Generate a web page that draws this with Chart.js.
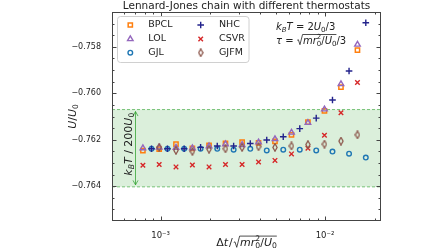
<!DOCTYPE html>
<html>
<head>
<meta charset="utf-8">
<script src="https://cdn.jsdelivr.net/npm/chart.js@4.4.1/dist/chart.umd.min.js"></script>
<style>
  html, body { margin: 0; padding: 0; background: #fff; }
</style>
</head>
<body>
<canvas id="chart" width="448" height="252"></canvas>
<script>
// time steps, two staggered grids (units of sqrt(m r0^2 / U0))
const dtA = [0.00078, 0.00098, 0.00124, 0.00156, 0.00197, 0.00248, 0.00313, 0.00394, 0.00496, 0.00625, 0.00787, 0.00992, 0.0125, 0.01575];
const dtB = [0.00088, 0.0011, 0.00139, 0.00175, 0.00221, 0.00278, 0.00351, 0.00442, 0.00557, 0.00702, 0.00884, 0.0111, 0.014, 0.0177];

// potential energy per particle U/U0
const bpcl = [-0.76247, -0.76240, -0.76219, -0.76237, -0.76224, -0.76216, -0.76210, -0.76214, -0.76207, -0.76179, -0.76124, -0.76076, -0.75974, -0.75814];
const lol  = [-0.76236, -0.76233, -0.76234, -0.76236, -0.76228, -0.76219, -0.76222, -0.76211, -0.76197, -0.76169, -0.76127, -0.76069, -0.75960, -0.75790];
const gjl  = [-0.76239, -0.76239, -0.76239, -0.76239, -0.76239, -0.76243, -0.76239, -0.76246, -0.76243, -0.76243, -0.76246, -0.76251, -0.76260, -0.76277];
const nhc  = [-0.76239, -0.76239, -0.76239, -0.76233, -0.76227, -0.76227, -0.76216, -0.76201, -0.76187, -0.76152, -0.76107, -0.76029, -0.75904, -0.75696];
const csvr = [-0.76310, -0.76307, -0.76317, -0.76309, -0.76317, -0.76307, -0.76307, -0.76296, -0.76289, -0.76261, -0.76237, -0.76181, -0.76084, -0.75954];
const gjfm = [null, -0.76233, -0.76246, -0.76250, -0.76241, -0.76239, -0.76233, -0.76230, -0.76233, -0.76227, -0.76221, -0.76219, -0.76206, -0.76179];

// axes
const yTicks = [-0.764, -0.762, -0.760, -0.758];
const yMinorStep = 0.0005;
const xTicks = [1e-3, 1e-2];
const xTickLabels = ['10⁻³', '10⁻²'];
const xMinor = [6e-4, 7e-4, 8e-4, 9e-4, 2e-3, 3e-3, 4e-3, 5e-3, 6e-3, 7e-3, 8e-3, 9e-3, 2e-2];

// kT/200 band around the small-dt value
const bandLow = -0.76403;
const bandHigh = -0.76070;
const arrowDt = 7e-4;

const FONT = '"DejaVu Sans", sans-serif';

function thinDiamond(color) {
  const c = document.createElement('canvas');
  c.width = 6; c.height = 9;
  const g = c.getContext('2d');
  g.strokeStyle = color;
  g.lineWidth = 1.3;
  g.beginPath();
  g.moveTo(3, 0.8); g.lineTo(5.1, 4.5); g.lineTo(3, 8.2); g.lineTo(0.9, 4.5);
  g.closePath();
  g.stroke();
  return c;
}

function series(label, xs, ys, color, style, radius, width, order) {
  return {
    label,
    data: xs.map((x, i) => ({ x, y: ys[i] })).filter(p => p.y !== null),
    showLine: false,
    pointStyle: style,
    pointRadius: radius,
    pointBorderColor: color,
    pointBackgroundColor: 'rgba(0,0,0,0)',
    pointBorderWidth: width,
    borderColor: color,
    backgroundColor: 'rgba(0,0,0,0)',
    order
  };
}

// mathtext-ish drawing: parts {t, it, sub, sup, stackSup, rad, ov}
function drawMath(ctx, parts, x, y, size, align) {
  const font = (it, small) => (it ? 'italic ' : '') + (small ? (size * 0.7).toFixed(1) : size) + 'px ' + FONT;
  const widthOf = p => {
    if (p.rad) return size * 0.62;
    ctx.font = font(p.it, p.sub || p.sup);
    let w = ctx.measureText(p.t).width;
    if (p.stackSup) { ctx.font = font(false, true); w = Math.max(w, ctx.measureText(p.stackSup).width); }
    return w + (p.gap || 0);
  };
  const total = parts.reduce((s, p) => s + widthOf(p), 0);
  let cx = align === 'center' ? x - total / 2 : x;
  let ovStart = null, ovEnd = null;
  ctx.textAlign = 'left';
  ctx.textBaseline = 'alphabetic';
  parts.forEach(p => {
    const w = widthOf(p);
    if (p.rad) {
      ctx.beginPath();
      ctx.lineWidth = 0.8;
      ctx.moveTo(cx + 0.05 * size, y - 0.32 * size);
      ctx.lineTo(cx + 0.16 * size, y - 0.38 * size);
      ctx.lineTo(cx + 0.32 * size, y + 0.12 * size);
      ctx.lineTo(cx + 0.58 * size, y - 0.9 * size);
      ctx.stroke();
      ovStart = cx + 0.58 * size;
    } else {
      ctx.font = font(p.it, p.sub || p.sup);
      let dy = 0;
      if (p.sub) dy = size * 0.22;
      if (p.sup) dy = -size * 0.42;
      ctx.fillText(p.t, cx, y + dy);
      if (p.stackSup) {
        ctx.font = font(false, true);
        ctx.fillText(p.stackSup, cx, y - size * 0.42);
      }
      if (p.ov) ovEnd = cx + w;
    }
    cx += w;
  });
  if (ovStart !== null && ovEnd !== null) {
    ctx.beginPath();
    ctx.lineWidth = 0.8;
    ctx.moveTo(ovStart, y - 0.9 * size);
    ctx.lineTo(ovEnd, y - 0.9 * size);
    ctx.stroke();
  }
}

const decor = {
  id: 'decor',
  beforeDatasetsDraw(chart) {
    const { ctx, chartArea: a, scales: { x, y } } = chart;
    const yt = y.getPixelForValue(bandHigh);
    const yb = y.getPixelForValue(bandLow);
    ctx.save();
    ctx.fillStyle = 'rgba(44,160,44,0.17)';
    ctx.fillRect(a.left, yt, a.right - a.left, yb - yt);
    ctx.strokeStyle = 'rgba(44,160,44,0.6)';
    ctx.lineWidth = 1;
    ctx.setLineDash([3, 2]);
    [yt, yb].forEach(p => {
      ctx.beginPath();
      ctx.moveTo(a.left, p);
      ctx.lineTo(a.right, p);
      ctx.stroke();
    });
    ctx.setLineDash([]);

    // double headed arrow spanning the band
    const ax = Math.round(x.getPixelForValue(arrowDt)) + 0.5;
    const t = yt + 2, b = yb - 2;
    ctx.strokeStyle = 'rgba(44,160,44,0.75)';
    ctx.lineWidth = 1;
    ctx.beginPath();
    ctx.moveTo(ax, t); ctx.lineTo(ax, b);
    ctx.moveTo(ax - 2.5, t + 4.5); ctx.lineTo(ax, t); ctx.lineTo(ax + 2.5, t + 4.5);
    ctx.moveTo(ax - 2.5, b - 4.5); ctx.lineTo(ax, b); ctx.lineTo(ax + 2.5, b - 4.5);
    ctx.stroke();

    ctx.fillStyle = '#222';
    ctx.strokeStyle = '#222';
    ctx.translate(ax - 7.5, (yt + yb) / 2 - 4);
    ctx.rotate(-Math.PI / 2);
    drawMath(ctx, [
      { t: 'k', it: true }, { t: 'B', it: true, sub: true }, { t: 'T', it: true },
      { t: ' / 200' }, { t: 'U', it: true }, { t: '0', sub: true }
    ], 0, 4, 11, 'center');
    ctx.restore();
  },
  afterDraw(chart) {
    const { ctx, chartArea: a, scales: { x, y } } = chart;
    ctx.save();

    // frame and inward ticks on all four sides
    ctx.strokeStyle = '#444';
    ctx.lineWidth = 1;
    ctx.strokeRect(a.left + 0.5, a.top + 0.5, a.right - a.left - 1, a.bottom - a.top - 1);
    ctx.beginPath();
    const vTick = (v, len) => {
      const p = Math.round(x.getPixelForValue(v)) + 0.5;
      ctx.moveTo(p, a.bottom); ctx.lineTo(p, a.bottom - len);
      ctx.moveTo(p, a.top); ctx.lineTo(p, a.top + len);
    };
    const hTick = (v, len) => {
      const p = Math.round(y.getPixelForValue(v)) + 0.5;
      if (p < a.top + 1 || p > a.bottom - 1) return;
      ctx.moveTo(a.left, p); ctx.lineTo(a.left + len, p);
      ctx.moveTo(a.right, p); ctx.lineTo(a.right - len, p);
    };
    xTicks.forEach(v => vTick(v, 4.5));
    xMinor.forEach(v => vTick(v, 2.5));
    for (let v = y.min; v <= y.max + 1e-9; v += yMinorStep) {
      const major = yTicks.some(t => Math.abs(t - v) < 1e-7);
      hTick(v, major ? 4.5 : 2.5);
    }
    ctx.stroke();

    // title
    ctx.fillStyle = '#222';
    ctx.font = '10.5px ' + FONT;
    ctx.textAlign = 'center';
    ctx.textBaseline = 'middle';
    ctx.fillText('Lennard-Jones chain with different thermostats', (a.left + a.right) / 2, 6.5);

    // axis titles
    ctx.strokeStyle = '#222';
    drawMath(ctx, [
      { t: 'Δ' }, { t: 't', it: true, gap: 1 }, { t: '/', gap: 0.5 }, { rad: true },
      { t: 'm', it: true, ov: true }, { t: 'r', it: true, ov: true },
      { t: '0', sub: true, stackSup: '2', ov: true }, { t: '/', ov: true },
      { t: 'U', it: true, ov: true }, { t: '0', sub: true, ov: true }
    ], (a.left + a.right) / 2, 246, 11, 'center');

    ctx.save();
    ctx.translate(72, (a.top + a.bottom) / 2);
    ctx.rotate(-Math.PI / 2);
    drawMath(ctx, [{ t: 'U', it: true }, { t: '/' }, { t: 'U', it: true }, { t: '0', sub: true }], 0, 4, 11, 'center');
    ctx.restore();

    // parameter note
    drawMath(ctx, [
      { t: 'k', it: true }, { t: 'B', it: true, sub: true }, { t: 'T', it: true },
      { t: ' = 2' }, { t: 'U', it: true }, { t: '0', sub: true }, { t: '/3' }
    ], 276, 29.5, 10);
    drawMath(ctx, [
      { t: 'τ', it: true }, { t: ' = ' }, { rad: true },
      { t: 'm', it: true, ov: true }, { t: 'r', it: true, ov: true },
      { t: '0', sub: true, stackSup: '2', ov: true }, { t: '/', ov: true },
      { t: 'U', it: true, ov: true }, { t: '0', sub: true, ov: true }, { t: '/3' }
    ], 276, 43.5, 10);

    // legend, two columns
    const lx = 117.5, ly = 16.5, lw = 131.5, lh = 46;
    ctx.beginPath();
    ctx.roundRect(lx, ly, lw, lh, 3);
    ctx.fillStyle = 'rgba(255,255,255,0.85)';
    ctx.fill();
    ctx.strokeStyle = '#d0d0d0';
    ctx.lineWidth = 1;
    ctx.stroke();
    const rows = [25, 39, 52.7];
    chart.data.datasets.forEach((ds, i) => {
      const col = Math.floor(i / 3), row = i % 3;
      const mx = col ? 200.7 : 130.3, tx = col ? 219 : 148.3;
      ctx.strokeStyle = ds.pointBorderColor;
      ctx.fillStyle = ds.pointBackgroundColor;
      ctx.lineWidth = ds.pointBorderWidth;
      Chart.helpers.drawPoint(ctx, {
        pointStyle: ds.pointStyle, radius: ds.pointRadius, rotation: 0, borderWidth: ds.pointBorderWidth
      }, mx, rows[row]);
      ctx.fillStyle = '#222';
      ctx.font = '9.5px ' + FONT;
      ctx.textAlign = 'left';
      ctx.textBaseline = 'middle';
      ctx.fillText(ds.label, tx, rows[row]);
    });
    ctx.restore();
  }
};

const ctx = document.getElementById('chart').getContext('2d');
new Chart(ctx, {
  type: 'scatter',
  data: {
    datasets: [
      series('BPCL', dtA, bpcl, '#ff7f0e', 'rect', 3, 1.5, 6),
      series('LOL', dtA, lol, '#9467bd', 'triangle', 3.2, 1.4, 5),
      series('GJL', dtB, gjl, '#1f77b4', 'circle', 2.3, 1.4, 4),
      series('NHC', dtB, nhc, '#23238c', 'cross', 3.3, 1.4, 3),
      series('CSVR', dtA, csvr, '#d62728', 'crossRot', 3.2, 1.4, 2),
      series('GJFM', dtA, gjfm, '#8c564b', thinDiamond('#8c564b'), 4, 1.3, 1)
    ]
  },
  options: {
    responsive: false,
    animation: false,
    events: [],
    layout: { padding: { left: 0, right: 67, top: 12, bottom: 0 } },
    plugins: { legend: { display: false }, title: { display: false }, tooltip: { enabled: false } },
    scales: {
      x: {
        type: 'logarithmic',
        min: 5.06e-4,
        max: 0.0219,
        grid: { display: false },
        border: { display: false },
        afterBuildTicks: s => { s.ticks = xTicks.map(v => ({ value: v })); },
        afterFit: s => { s.height = 31; },
        ticks: {
          autoSkip: false,
          maxRotation: 0,
          padding: 2,
          color: '#222',
          font: { family: FONT, size: 8.5 },
          callback: v => xTickLabels[xTicks.indexOf(v)] || ''
        }
      },
      y: {
        min: -0.7655,
        max: -0.7565,
        grid: { display: false },
        border: { display: false },
        afterBuildTicks: s => { s.ticks = yTicks.map(v => ({ value: v })); },
        afterFit: s => { s.width = 112; },
        ticks: {
          padding: 3,
          color: '#222',
          font: { family: FONT, size: 8 },
          callback: v => v.toFixed(3).replace('-', '−')
        }
      }
    }
  },
  plugins: [decor]
});
</script>
</body>
</html>
